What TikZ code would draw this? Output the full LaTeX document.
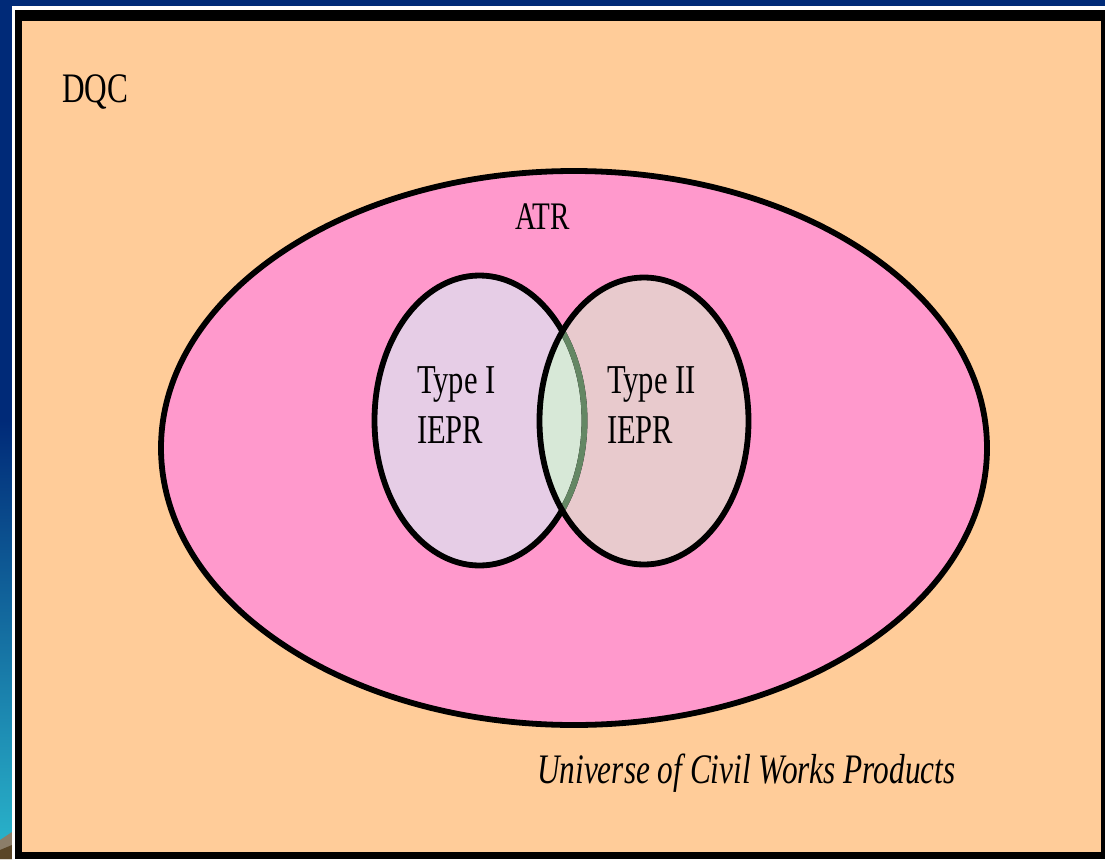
\documentclass[tikz,border=0pt]{standalone}
\usepackage{fontspec}
\setmainfont{Liberation Serif}
\definecolor{navy}{RGB}{0,42,120}
\definecolor{cyanish}{RGB}{40,175,200}
\definecolor{earth}{RGB}{90,70,40}
\definecolor{peach}{RGB}{255,204,153}
\definecolor{pinkfill}{RGB}{255,153,204}
\definecolor{lavfill}{RGB}{230,205,230}
\definecolor{rosefill}{RGB}{232,202,205}
\definecolor{mintfill}{RGB}{215,232,215}
\definecolor{arcgreen}{RGB}{100,135,100}
\begin{document}
\begin{tikzpicture}[x=1pt,y=-1pt,
  lbl/.style={inner sep=0pt, xscale=0.745, anchor=base west, text=black, font=\fontsize{41}{50}\selectfont},
  ring/.style={draw=black, line width=5.8pt}]
\useasboundingbox (0,0) rectangle (1105,859);
% slide background
\fill[navy] (0,0) rectangle (1105,859);
\shade[top color=navy, bottom color=cyanish] (0,420) rectangle (12,835);
\fill[cyanish] (0,835) rectangle (12,859);
\fill[earth!70!white] (0,840) -- (12,832) -- (12,859) -- (0,859) -- cycle;
\fill[earth] (0,850) -- (12,845) -- (12,859) -- (0,859) -- cycle;
% frame
\fill[white] (12,6) rectangle (1105,859);
\fill[black] (15,10) rectangle (1105,859);
\fill[peach] (22,21) rectangle (1101,852);
% ATR ellipse
\path[ring, fill=pinkfill] (574,448) ellipse [x radius=413pt, y radius=277pt];
% IEPR circles
\fill[lavfill] (479.5,420.5) ellipse [x radius=105pt, y radius=145pt];
\fill[rosefill] (644,421) ellipse [x radius=104.5pt, y radius=143.5pt];
\begin{scope}
  \clip (644,421) ellipse [x radius=104.5pt, y radius=143.5pt];
  \fill[mintfill] (479.5,420.5) ellipse [x radius=105pt, y radius=145pt];
\end{scope}
\draw[ring] (479.5,420.5) ellipse [x radius=105pt, y radius=145pt];
\begin{scope}
  \clip (644,421) ellipse [x radius=104.5pt, y radius=143.5pt];
  \draw[draw=arcgreen, line width=5.8pt] (479.5,420.5) ellipse [x radius=105pt, y radius=145pt];
\end{scope}
\draw[ring] (644,421) ellipse [x radius=104.5pt, y radius=143.5pt];
% labels
\node[lbl, font=\fontsize{42}{50}\selectfont] (dqc) at (62,102) {DQC};
\node[lbl, font=\fontsize{39}{50}\selectfont] (atr) at (515,229) {ATR};
\node[lbl] (t1) at (417,393) {Type I};
\node[lbl] (i1) at (417,443) {IEPR};
\node[lbl] (t2) at (607,393) {Type II};
\node[lbl] (i2) at (607,443) {IEPR};
\node[lbl, font=\fontsize{42}{50}\selectfont\itshape] (univ) at (537,783) {Universe of Civil Works Products};
\end{tikzpicture}
\end{document}
